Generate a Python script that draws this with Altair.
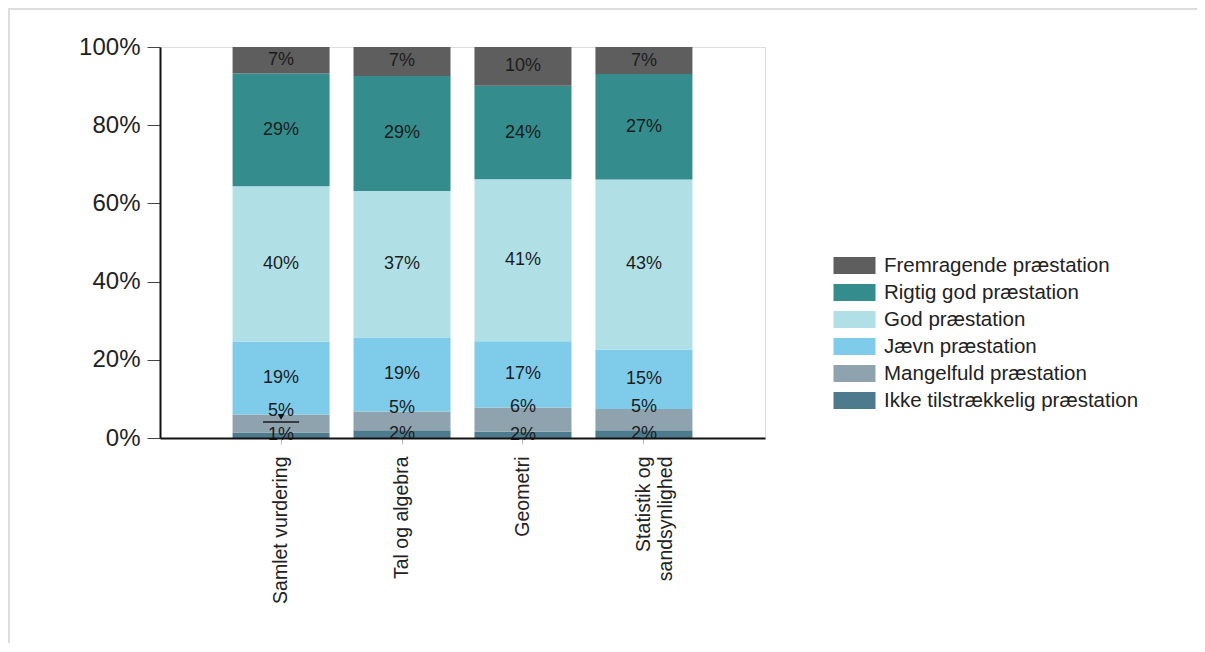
import altair as alt
import pandas as pd

categories = ["Samlet vurdering", "Tal og algebra", "Geometri", "Statistik og sandsynlighed"]
levels = [
    "Ikke tilstrækkelig præstation",
    "Mangelfuld præstation",
    "Jævn præstation",
    "God præstation",
    "Rigtig god præstation",
    "Fremragende præstation",
]
colors = ["#4e7a8e", "#8fa3ae", "#7fcbea", "#b0e0e6", "#358c8c", "#5e5e5e"]

ikke = [1.4, 2.0, 1.6, 2.0]
mangel = [4.6, 4.8, 6.2, 5.4]
jaevn = [18.7, 18.9, 16.9, 15.2]
god = [39.7, 37.4, 41.4, 43.4]
rigtig = [28.8, 29.4, 23.9, 26.9]
frem = [6.8, 7.4, 9.9, 6.9]

series = [ikke, mangel, jaevn, god, rigtig, frem]
rows = []
for li, (lvl, vals) in enumerate(zip(levels, series)):
    for cat, v in zip(categories, vals):
        rows.append({"cat": cat, "level": lvl, "order": li, "value": v, "label": f"{round(v)}%"})
df = pd.DataFrame(rows)

marker = pd.DataFrame({"cat": ["Samlet vurdering"], "y_line": [4.1], "y_tri": [5.4]})
frame = pd.DataFrame({"k": [0]})

FONT = "Liberation Sans"

x_enc = alt.X(
    "cat:N",
    sort=categories,
    title=None,
    scale=alt.Scale(paddingInner=0.198, paddingOuter=0.6),
    axis=alt.Axis(
        labelAngle=-90,
        labelFontSize=19.5,
        labelColor="#222222",
        labelPadding=12,
        labelLimit=300,
        labelExpr="datum.label == 'Statistik og sandsynlighed' ? ['Statistik og', 'sandsynlighed'] : datum.label",
        labelLineHeight=22,
        domainColor="#111111",
        domainWidth=2,
        tickColor="#bbbbbb",
        tickSize=6,
        zindex=1,
    ),
)

base = (
    alt.Chart(df)
    .transform_joinaggregate(total="sum(value)", groupby=["cat"])
    .transform_calculate(pct="datum.value / datum.total * 100")
    .transform_stack(stack="pct", as_=["y0", "y1"], groupby=["cat"], sort=[alt.SortField("order", "ascending")])
    .transform_calculate(mid="(datum.y0 + datum.y1) / 2")
)

y_scale = alt.Scale(domain=[0, 100], nice=False)

bars = base.mark_bar().encode(
    x=x_enc,
    y=alt.Y(
        "y0:Q",
        scale=y_scale,
        title=None,
        axis=alt.Axis(
            values=[0, 20, 40, 60, 80, 100],
            labelExpr="datum.value + '%'",
            labelFontSize=24,
            labelColor="#222222",
            labelPadding=7,
            tickSize=13,
            tickColor="#444444",
            domainColor="#111111",
            domainWidth=2,
            grid=False,
            zindex=1,
        ),
    ),
    y2="y1:Q",
    color=alt.Color(
        "level:N",
        scale=alt.Scale(domain=levels[::-1], range=colors[::-1]),
        legend=alt.Legend(
            title=None,
            orient="none",
            legendX=684,
            legendY=208,
            symbolType="M-2,-0.8L2,-0.8L2,0.8L-2,0.8Z",
            symbolSize=441,
            symbolStrokeWidth=0,
            labelFontSize=20.5,
            labelColor="#222222",
            labelFont=FONT,
            labelOffset=19,
            labelLimit=400,
            rowPadding=6,
        ),
    ),
)

labels_main = base.transform_filter("datum.order != 1").mark_text(
    fontSize=18, color="#1c1c1c", font=FONT, baseline="middle"
).encode(x=alt.X("cat:N", sort=categories), y=alt.Y("mid:Q", scale=y_scale), text="label:N")

labels_mangel = base.transform_filter("datum.order == 1").mark_text(
    fontSize=18, color="#1c1c1c", font=FONT, baseline="middle", dy=-13
).encode(x=alt.X("cat:N", sort=categories), y=alt.Y("mid:Q", scale=y_scale), text="label:N")

mk_line = alt.Chart(marker).mark_tick(orient="horizontal", size=36, thickness=2, color="#111111").encode(
    x=alt.X("cat:N", sort=categories), y=alt.Y("y_line:Q", scale=y_scale)
)
mk_tri = alt.Chart(marker).mark_point(shape="triangle-down", size=45, filled=True, color="#111111", opacity=1).encode(
    x=alt.X("cat:N", sort=categories), y=alt.Y("y_tri:Q", scale=y_scale)
)

frame_top = alt.Chart(frame).mark_rule(color="#dddddd", strokeWidth=2).encode(
    x=alt.value(-152), x2=alt.value(1040), y=alt.value(-38)
)
frame_left = alt.Chart(frame).mark_rule(color="#dddddd", strokeWidth=2).encode(
    x=alt.value(-151), y=alt.value(-38), y2=alt.value(600)
)

chart = (
    alt.layer(frame_top, frame_left, bars, labels_main, labels_mangel, mk_line, mk_tri)
    .properties(
        width=605,
        height=391,
        autosize=alt.AutoSizeParams(type="none"),
        padding={"left": 152, "top": 39, "right": 432, "bottom": 205},
    )
    .configure_view(stroke=None)
    .configure_axis(labelFont=FONT)
    .configure(font=FONT)
)

chart.save("out.html", embed_options={"renderer": "svg", "actions": False})
